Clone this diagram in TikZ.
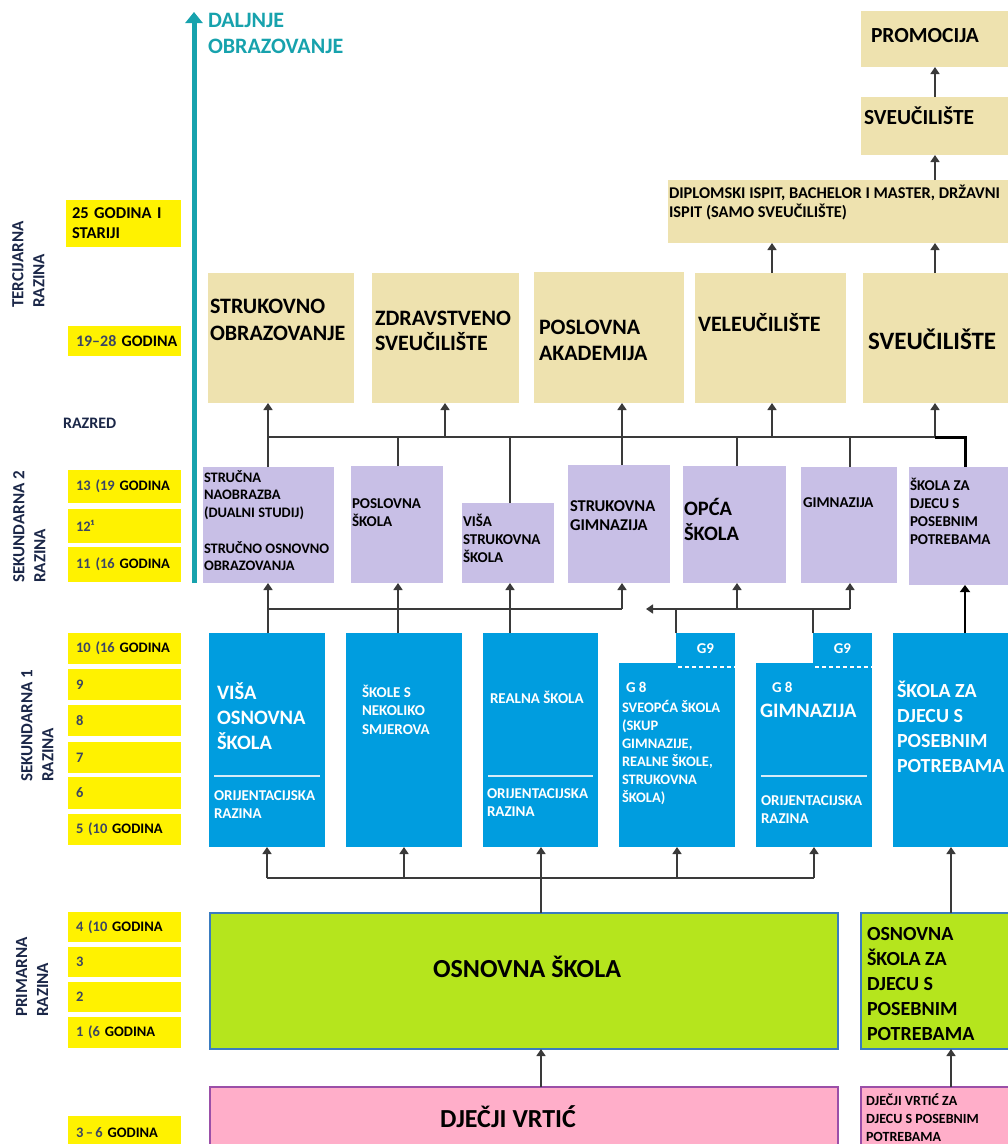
\documentclass[tikz,border=0pt]{standalone}
\usepackage{fontspec}
\setmainfont{Carlito}
\usetikzlibrary{arrows.meta}
\definecolor{beigec}{HTML}{EEE2AF}
\definecolor{lilac}{HTML}{C8BFE6}
\definecolor{bluec}{HTML}{009DDF}
\definecolor{greenc}{HTML}{B5E51D}
\definecolor{greenbd}{HTML}{3A7CC0}
\definecolor{pinkc}{HTML}{FFAEC9}
\definecolor{pinkbd}{HTML}{9B4FA8}
\definecolor{yelc}{HTML}{FFF200}
\definecolor{tealc}{HTML}{17A2AD}
\definecolor{lncol}{HTML}{3A3A3A}
\definecolor{navyc}{HTML}{1B2748}
\definecolor{numcol}{HTML}{3C4663}
\definecolor{seplc}{HTML}{D6ECF8}
\newcommand\fsz[2]{\fontsize{#1}{#2}\selectfont\bfseries}
\begin{document}
\begin{tikzpicture}[x=1pt,y=-1pt,
 bx/.style={inner sep=0pt, outer sep=0pt, anchor=north west, draw=none},
 tx/.style={inner sep=0pt, outer sep=0pt, anchor=base west, align=left},
 wtx/.style={tx, text=white},
 ybox/.style={fill=yelc, anchor=north west, inner xsep=8pt, inner ysep=0pt, outer sep=0pt, text width=97pt, align=left, font=\fsz{14.5}{17}},
 rot/.style={inner sep=0pt, rotate=90, anchor=north west, align=left, text=navyc, font=\fsz{17}{21}},
 ln/.style={draw=lncol, line width=1.6pt},
 arr/.style={ln, -{Triangle[width=9pt,length=7pt]}},
 wl/.style={draw=seplc, line width=2pt},
 wdash/.style={draw=white, line width=1.5pt, dash pattern=on 4pt off 3pt},
]
\useasboundingbox (0,0) rectangle (1008,1144);

% ---------- left column ----------
\node[rot] (lT) at (12,308) {TERCIJARNA\\RAZINA};
\node[rot] (lS2) at (13,583) {SEKUNDARNA 2\\RAZINA};
\node[rot] (lS1) at (21,782) {SEKUNDARNA 1\\RAZINA};
\node[rot] (lP) at (16,1017) {PRIMARNA\\RAZINA};

\node[ybox, inner xsep=6pt, text width=103pt, minimum height=47pt, font=\fsz{16.5}{20}] (y25) at (66,200) {25 GODINA I\\STARIJI};
\node[ybox, minimum height=30pt, font=\fsz{16}{19}] (y1928) at (68,326) {\mbox{\textcolor{numcol}{19–28} GODINA}};
\node[tx, text=navyc, font=\fsz{16}{19}] (razred) at (63,428) {RAZRED};
\node[ybox, minimum height=33pt] (y13) at (68,470) {\textcolor{numcol}{13 (19} GODINA};
\node[ybox, minimum height=34pt] (y12) at (68,509) {\textcolor{numcol}{12¹}};
\node[ybox, minimum height=35pt] (y11) at (68,547) {\textcolor{numcol}{11 (16} GODINA};
\node[ybox, minimum height=31pt] (y10) at (68,633) {\textcolor{numcol}{10 (16} GODINA};
\node[ybox, minimum height=31pt] (y9) at (68,669) {\textcolor{numcol}{9}};
\node[ybox, minimum height=31pt] (y8) at (68,705) {\textcolor{numcol}{8}};
\node[ybox, minimum height=31pt] (y7) at (68,742) {\textcolor{numcol}{7}};
\node[ybox, minimum height=32pt] (y6) at (68,777) {\textcolor{numcol}{6}};
\node[ybox, minimum height=31pt] (y5) at (68,814) {\textcolor{numcol}{5 (10} GODINA};
\node[ybox, minimum height=30pt] (y4) at (68,912) {\textcolor{numcol}{4 (10} GODINA};
\node[ybox, minimum height=30pt] (y3) at (68,947) {\textcolor{numcol}{3}};
\node[ybox, minimum height=30pt] (y2) at (68,982) {\textcolor{numcol}{2}};
\node[ybox, minimum height=31pt] (y1) at (68,1017) {\textcolor{numcol}{1 (6} GODINA};
\node[ybox, minimum height=34pt] (y36) at (68,1116) {\textcolor{numcol}{3\,–\,6} GODINA};

% ---------- teal arrow ----------
\coordinate (tealA) at (194,583);
\coordinate (tealB) at (194,12);
\draw[tealc, line width=5pt, -{Triangle[width=17pt,length=11pt]}] (tealA) -- (tealB);
\node[tx, text=tealc, font=\fsz{22}{26}] (dalj) at (208,53) {DALJNJE\\OBRAZOVANJE};

% ---------- tertiary ----------
\node[bx, fill=beigec, minimum width=147pt, minimum height=56pt] (promo) at (861,11) {};
\node[tx, font=\fsz{21.5}{26}] (promoT) at (871,42) {PROMOCIJA};
\node[bx, fill=beigec, minimum width=147pt, minimum height=58pt] (sveuTop) at (861,97) {};
\node[tx, font=\fsz{21.5}{26}] (sveuTopT) at (864,124) {SVEUČILIŠTE};
\node[bx, fill=beigec, minimum width=340pt, minimum height=63pt] (dipl) at (668,180) {};
\node[tx, font=\fsz{16.4}{19.5}] (diplT) at (669,217.5) {DIPLOMSKI ISPIT, BACHELOR I MASTER, DRŽAVNI\\ISPIT (SAMO SVEUČILIŠTE)};

\node[bx, fill=beigec, minimum width=146pt, minimum height=130pt] (tStruk) at (208,273) {};
\node[bx, fill=beigec, minimum width=147pt, minimum height=130pt] (tZdr) at (372,273) {};
\node[bx, fill=beigec, minimum width=150pt, minimum height=131pt] (tPosl) at (534,272) {};
\node[bx, fill=beigec, minimum width=151pt, minimum height=130pt] (tVele) at (695,273) {};
\node[bx, fill=beigec, minimum width=145pt, minimum height=130pt] (tSveu) at (863,273) {};
\node[tx, font=\fsz{22}{27}] (tStrukT) at (210,340) {STRUKOVNO\\OBRAZOVANJE};
\node[tx, font=\fsz{22}{25}] (tZdrT) at (375,350) {ZDRAVSTVENO\\SVEUČILIŠTE};
\node[tx, font=\fsz{22}{26}] (tPoslT) at (539,360) {POSLOVNA\\AKADEMIJA};
\node[tx, font=\fsz{22}{26}] (tVeleT) at (698,331) {VELEUČILIŠTE};
\node[tx, font=\fsz{25}{30}] (tSveuT) at (868,349) {SVEUČILIŠTE};

% ---------- secondary 2 (purple) ----------
\node[bx, fill=lilac, minimum width=131pt, minimum height=116pt] (pStr) at (203,467) {};
\node[bx, fill=lilac, minimum width=92pt, minimum height=117pt] (pPos) at (351,466) {};
\node[bx, fill=lilac, minimum width=92pt, minimum height=80pt] (pVisa) at (462,503) {};
\node[bx, fill=lilac, minimum width=102pt, minimum height=118pt] (pSG) at (568,465) {};
\node[bx, fill=lilac, minimum width=103pt, minimum height=117pt] (pOpca) at (683,466) {};
\node[bx, fill=lilac, minimum width=96pt, minimum height=116pt] (pGim) at (801,467) {};
\node[bx, fill=lilac, minimum width=99pt, minimum height=118pt] (pSpec) at (909,467) {};
\node[tx, font=\fsz{14.5}{17.5}] (pStrT1) at (204,517) {STRUČNA\\NAOBRAZBA\\(DUALNI STUDIJ)};
\node[tx, font=\fsz{14.5}{17.5}] (pStrT2) at (204,570.5) {STRUČNO OSNOVNO\\OBRAZOVANJA};
\node[tx, font=\fsz{15}{18}] (pPosT) at (352,526) {POSLOVNA\\ŠKOLA};
\node[tx, font=\fsz{15}{18}] (pVisaT) at (463,562) {VIŠA\\STRUKOVNA\\ŠKOLA};
\node[tx, font=\fsz{16.5}{19}] (pSGT) at (570,530) {STRUKOVNA\\GIMNAZIJA};
\node[tx, font=\fsz{20.5}{25}] (pOpcaT) at (684,540) {OPĆA\\ŠKOLA};
\node[tx, font=\fsz{15}{18}] (pGimT) at (803,507) {GIMNAZIJA};
\node[tx, font=\fsz{15}{18}] (pSpecT) at (910,544) {ŠKOLA ZA\\DJECU S\\POSEBNIM\\POTREBAMA};

% ---------- secondary 1 (blue) ----------
\node[bx, fill=bluec, minimum width=116pt, minimum height=214pt] (bVisa) at (209,633) {};
\node[bx, fill=bluec, minimum width=116pt, minimum height=214pt] (bSkole) at (346,633) {};
\node[bx, fill=bluec, minimum width=115pt, minimum height=214pt] (bReal) at (483,633) {};
\node[bx, fill=bluec, minimum width=116pt, minimum height=184pt] (bSve) at (619,663) {};
\node[bx, fill=bluec, minimum width=59pt, minimum height=31pt] (bSveTab) at (676,633) {};
\node[bx, fill=bluec, minimum width=116pt, minimum height=184pt] (bGim) at (756,663) {};
\node[bx, fill=bluec, minimum width=59pt, minimum height=31pt] (bGimTab) at (813,633) {};
\node[bx, fill=bluec, minimum width=115pt, minimum height=214pt] (bSpec) at (893,633) {};

\node[wtx, font=\fsz{20.5}{25}] (bVisaT) at (217,749) {VIŠA\\OSNOVNA\\ŠKOLA};
\draw[wl] (214,776) -- (320,776);
\node[wtx, font=\fsz{15}{18}] (bVisaO) at (214,818) {ORIJENTACIJSKA\\RAZINA};
\node[wtx, font=\fsz{15}{18.5}] (bSkoleT) at (362,734) {ŠKOLE S\\NEKOLIKO\\SMJEROVA};
\node[wtx, font=\fsz{15}{18}] (bRealT) at (490,703) {REALNA ŠKOLA};
\draw[wl] (488,776) -- (593,776);
\node[wtx, font=\fsz{15}{18}] (bRealO) at (487,816) {ORIJENTACIJSKA\\RAZINA};
\node[text=white, font=\fsz{15}{18}, inner sep=0pt] (bSveG9) at (bSveTab.center) {G9};
\draw[wdash] (678,667) -- (735,667);
\node[wtx, font=\fsz{15}{18}] (bSveG8) at (626,692) {G 8};
\node[wtx, font=\fsz{14.5}{18}] (bSveT) at (622,802) {SVEOPĆA ŠKOLA\\(SKUP\\GIMNAZIJE,\\REALNE ŠKOLE,\\STRUKOVNA\\ŠKOLA)};
\node[text=white, font=\fsz{15}{18}, inner sep=0pt] (bGimG9) at (bGimTab.center) {G9};
\draw[wdash] (815,667) -- (872,667);
\node[wtx, font=\fsz{15}{18}] (bGimG8) at (772,692) {G 8};
\node[wtx, font=\fsz{20.5}{25}] (bGimT) at (760,717) {GIMNAZIJA};
\draw[wl] (761,776) -- (867,776);
\node[wtx, font=\fsz{15}{18}] (bGimO) at (761,823) {ORIJENTACIJSKA\\RAZINA};
\node[wtx, font=\fsz{20}{25}] (bSpecT) at (897,772) {ŠKOLA ZA\\DJECU S\\POSEBNIM\\POTREBAMA};

% ---------- primary (green) ----------
\node[bx, fill=greenc, draw=greenbd, line width=1.5pt, minimum width=628pt, minimum height=136pt] (osn) at (210,913) {};
\node[bx, fill=greenc, draw=greenbd, line width=1.5pt, minimum width=152pt, minimum height=136pt] (osnSp) at (861,913) {};
\node[font=\fsz{26}{30}, inner sep=0pt, anchor=base] (osnT) at (527,977) {OSNOVNA ŠKOLA};
\node[tx, font=\fsz{20}{25}] (osnSpT) at (867,1040) {OSNOVNA\\ŠKOLA ZA\\DJECU S\\POSEBNIM\\POTREBAMA};

% ---------- kindergarten (pink) ----------
\node[bx, fill=pinkc, draw=pinkbd, line width=1.5pt, minimum width=628pt, minimum height=70pt] (vrt) at (210,1087) {};
\node[bx, fill=pinkc, draw=pinkbd, line width=1.5pt, minimum width=152pt, minimum height=70pt] (vrtSp) at (861,1087) {};
\node[font=\fsz{26}{30}, inner sep=0pt, anchor=base] (vrtT) at (508,1127) {DJEČJI VRTIĆ};
\node[tx, font=\fsz{14}{18}] (vrtSpT) at (866,1141) {DJEČJI VRTIĆ ZA\\DJECU S POSEBNIM\\POTREBAMA};

% ---------- connector coordinates ----------
\coordinate (k1) at (268,0);
\coordinate (k2) at (398,0);
\coordinate (k3) at (510,0);
\coordinate (k4) at (622,0);
\coordinate (k5) at (737,0);
\coordinate (k6) at (850,0);
\coordinate (k7) at (965,0);
\coordinate (kZ) at (445,0);
\coordinate (kV) at (772,0);
\coordinate (kS) at (935,0);
\coordinate (kG1) at (676,0);
\coordinate (kG2) at (813,0);
\coordinate (kArr) at (646,0);
\coordinate (kB1) at (267,0);
\coordinate (kB2) at (404,0);
\coordinate (kB3) at (541,0);
\coordinate (kB4) at (677,0);
\coordinate (kB5) at (814,0);
\coordinate (kSp) at (951,0);
\coordinate (busT) at (0,437);
\coordinate (busM) at (0,609);
\coordinate (busB) at (0,878);

% top
\draw[arr] (kS |- sveuTop.north) -- (kS |- promo.south);
\draw[arr] (kS |- dipl.north) -- (kS |- sveuTop.south);
\draw[arr] (kV |- tVele.north) -- (kV |- dipl.south);
\draw[arr] (kS |- tSveu.north) -- (kS |- dipl.south);

% tertiary bus
\draw[ln] (k1 |- busT) -- (kS |- busT);
\draw[arr] (k1 |- pStr.north) -- (k1 |- tStruk.south);
\draw[ln] (k2 |- pPos.north) -- (k2 |- busT);
\draw[ln] (k3 |- pVisa.north) -- (k3 |- busT);
\draw[arr] (k4 |- pSG.north) -- (k4 |- tPosl.south);
\draw[ln] (k5 |- pOpca.north) -- (k5 |- busT);
\draw[ln] (k6 |- pGim.north) -- (k6 |- busT);
\draw[arr] (kZ |- busT) -- (kZ |- tZdr.south);
\draw[arr] (kV |- busT) -- (kV |- tVele.south);
\draw[arr] (kS |- busT) -- (kS |- tSveu.south);
\draw[black, line width=3pt] (kS |- busT) -- (k7 |- busT) -- (k7 |- pSpec.north);

% middle bus
\draw[ln] (k1 |- busM) -- (k4 |- busM);
\draw[arr] (k1 |- bVisa.north) -- (k1 |- pStr.south);
\draw[arr] (k2 |- bSkole.north) -- (k2 |- pPos.south);
\draw[arr] (k3 |- bReal.north) -- (k3 |- pVisa.south);
\draw[arr] (k4 |- busM) -- (k4 |- pSG.south);
\draw[arr] (k6 |- busM) -- (kArr |- busM);
\draw[ln] (kG1 |- bSveTab.north) -- (kG1 |- busM);
\draw[ln] (kG2 |- bGimTab.north) -- (kG2 |- busM);
\draw[arr] (k5 |- busM) -- (k5 |- pOpca.south);
\draw[arr] (k6 |- busM) -- (k6 |- pGim.south);
\draw[black, line width=2.6pt, -{Triangle[width=10pt,length=7pt]}] (k7 |- bSpec.north) -- (k7 |- pSpec.south);

% bottom bus
\draw[ln] (kB1 |- busB) -- (kB5 |- busB);
\draw[arr] (kB1 |- busB) -- (kB1 |- bVisa.south);
\draw[arr] (kB2 |- busB) -- (kB2 |- bSkole.south);
\draw[arr] (kB3 |- osn.north) -- (kB3 |- bReal.south);
\draw[arr] (kB4 |- busB) -- (kB4 |- bSve.south);
\draw[arr] (kB5 |- busB) -- (kB5 |- bGim.south);
\draw[arr] (kSp |- osnSp.north) -- (kSp |- bSpec.south);
\draw[arr] (kB3 |- vrt.north) -- (kB3 |- osn.south);
\draw[arr] (kSp |- vrtSp.north) -- (kSp |- osnSp.south);
\end{tikzpicture}
\end{document}
